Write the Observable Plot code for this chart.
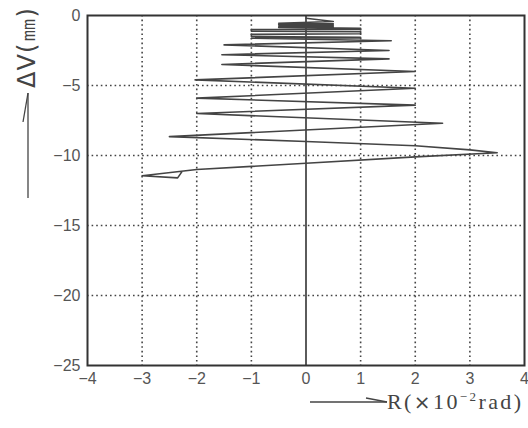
<!DOCTYPE html>
<html><head><meta charset="utf-8">
<script src="https://cdn.jsdelivr.net/npm/d3@7"></script>
<script src="https://cdn.jsdelivr.net/npm/@observablehq/plot@0.6"></script>
<style>body{margin:0;background:#fff}#chart{width:528px;height:428px}</style>
</head><body><div id="chart"></div>
<script>
// Rotation R (×10^-2 rad) and vertical displacement ΔV (mm), traced in order
const rotationR = [
  0, 0.5, -0.5, 0.5, -0.5, 0.5, -0.5, 0.5, -0.5,
  1.0, 1.0, -1.0, -1.0, 1.0, 1.0, -1.0, -1.0, 1.0, 1.0, -1.0,
  1.56, -1.5, 1.52, -1.54, 1.52, -1.54,
  2.0, -2.03, 2.0, -2.0, 2.0, -2.0,
  2.5, -2.5, 0, 2.0, 3.0, 3.5, 2.0, 0, -2.0, -3.0, -2.35, -2.27
];
const settlementV = [
  -0.2, -0.43, -0.55, -0.6, -0.65, -0.7, -0.75, -0.8, -0.85,
  -0.92, -0.98, -1.0, -1.12, -1.15, -1.3, -1.35, -1.5, -1.55, -1.6, -1.62,
  -1.8, -2.1, -2.5, -2.8, -3.1, -3.5,
  -4.0, -4.6, -5.2, -5.9, -6.4, -7.0,
  -7.7, -8.65, -9.0, -9.3, -9.6, -9.8, -10.1, -10.55, -11.0, -11.45, -11.6, -11.15
];
const xTicks = [-4, -3, -2, -1, 0, 1, 2, 3, 4];
const yTicks = [0, -5, -10, -15, -20, -25];
const xGrid = [-3, -2, -1, 1, 2, 3];
const yGrid = [-5, -10, -15, -20];

const data = rotationR.map((r, i) => ({r, v: settlementV[i]}));
const fmt = d => d < 0 ? "\u2212" + Math.abs(d) : String(d);
const dotted = {stroke: "#444", strokeOpacity: 1, strokeWidth: 1.6, strokeDasharray: "1.6,3"};

const chart = Plot.plot({
  width: 528, height: 428,
  marginLeft: 87, marginRight: 4, marginTop: 15, marginBottom: 63,
  x: {domain: [-4, 4]},
  y: {domain: [-25, 0]},
  style: {fontFamily: "'Liberation Sans', Arial, sans-serif", fontSize: "16px", color: "#555", background: "#fff"},
  marks: [
    Plot.gridX(xGrid, dotted),
    Plot.gridY(yGrid, dotted),
    Plot.ruleX([0], {stroke: "#333", strokeWidth: 1.6}),
    Plot.line(data, {x: "r", y: "v", stroke: "#444", strokeWidth: 1.6}),
    Plot.frame({stroke: "#333", strokeWidth: 2}),
    Plot.axisX({ticks: xTicks, tickSize: 0, tickPadding: 7, label: null, tickFormat: fmt}),
    Plot.axisY({ticks: yTicks, tickSize: 0, tickPadding: 7, label: null, tickFormat: fmt})
  ]
});
document.getElementById("chart").appendChild(chart);

// axis captions with arrows
const svg = d3.select(chart);
const g = svg.append("g").attr("stroke", "#444").attr("stroke-width", 1.3).attr("fill", "none");
g.append("line").attr("x1", 28).attr("y1", 198).attr("x2", 28).attr("y2", 93);
g.append("line").attr("x1", 28).attr("y1", 93).attr("x2", 23).attr("y2", 122);
g.append("line").attr("x1", 310).attr("y1", 402).attr("x2", 387).attr("y2", 402);
g.append("line").attr("x1", 387).attr("y1", 402).attr("x2", 366).attr("y2", 398);

svg.append("text")
  .attr("transform", "translate(35,88) rotate(-90)")
  .attr("text-anchor", "start")
  .attr("fill", "#444")
  .attr("font-family", "'DejaVu Sans', sans-serif")
  .attr("font-size", 24)
  .attr("textLength", 80)
  .text("ΔV(㎜)");

const xl = svg.append("text")
  .attr("x", 387).attr("y", 409)
  .attr("text-anchor", "start")
  .attr("fill", "#444")
  .attr("font-family", "'Liberation Serif', 'DejaVu Serif', serif")
  .attr("font-size", 22)
  .attr("letter-spacing", 2.4);
xl.append("tspan").text("R(");
xl.append("tspan").attr("font-family", "'DejaVu Sans', sans-serif").attr("font-size", 20).text("×");
xl.append("tspan").text("10");
xl.append("tspan").attr("font-size", 13).attr("dy", -8).text("−2");
xl.append("tspan").attr("dy", 8).text("rad)");
</script>
</body></html>
